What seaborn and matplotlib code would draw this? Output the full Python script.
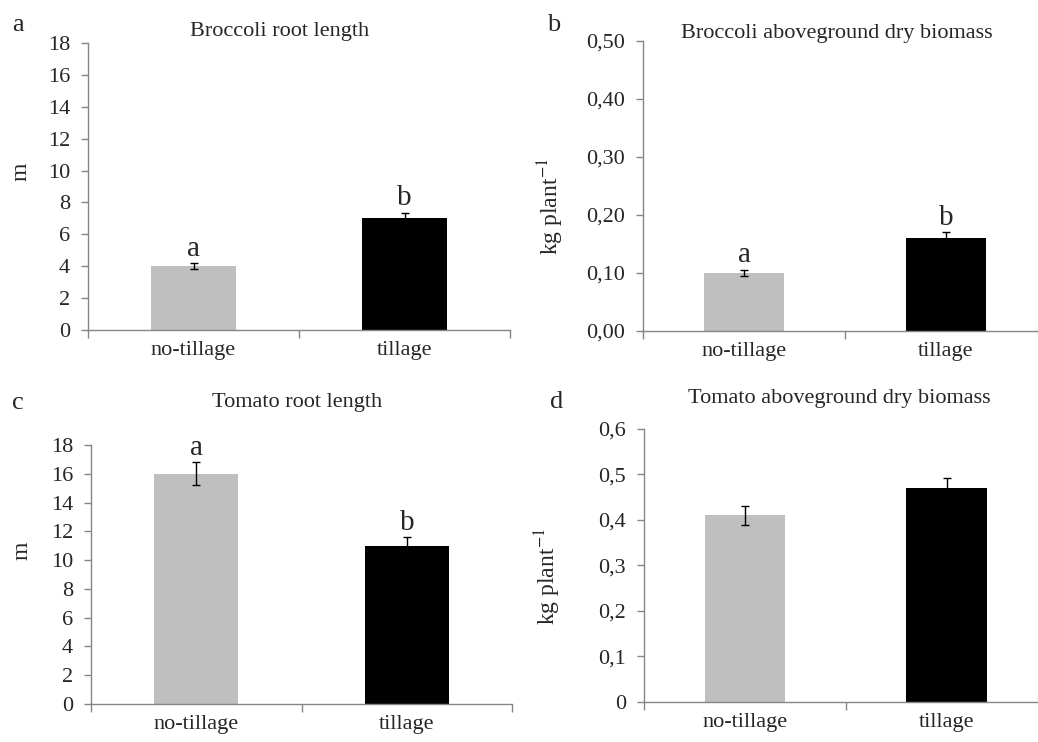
import matplotlib
matplotlib.use("Agg")
import matplotlib.pyplot as plt
import seaborn as sns
import pandas as pd

# --- data ---
treatments = ["no-tillage", "tillage"]
bar_colors = ["#bfbfbf", "#000000"]

broc_root = [4.0, 7.0]
broc_root_err = [0.2, 0.35]
broc_root_letters = ["a", "b"]

broc_bio = [0.10, 0.16]
broc_bio_err = [0.006, 0.01]
broc_bio_letters = ["a", "b"]

tom_root = [16.0, 11.0]
tom_root_err = [0.8, 0.6]
tom_root_letters = ["a", "b"]

tom_bio = [0.41, 0.47]
tom_bio_err = [0.021, 0.022]
tom_bio_letters = ["", ""]

root_ticks = [0, 2, 4, 6, 8, 10, 12, 14, 16, 18]
root_ticklabels = ["0", "2", "4", "6", "8", "10", "12", "14", "16", "18"]
broc_bio_ticks = [0.0, 0.1, 0.2, 0.3, 0.4, 0.5]
broc_bio_ticklabels = ["0,00", "0,10", "0,20", "0,30", "0,40", "0,50"]
tom_bio_ticks = [0.0, 0.1, 0.2, 0.3, 0.4, 0.5, 0.6]
tom_bio_ticklabels = ["0", "0,1", "0,2", "0,3", "0,4", "0,5", "0,6"]

sns.set_style("white")
plt.rcParams["font.family"] = ["Liberation Serif", "DejaVu Serif"]
plt.rcParams["mathtext.fontset"] = "stix"

AXIS_GREY = "#868686"

fig = plt.figure(figsize=(10.38, 7.42), dpi=100)


def panel(rect, values, errs, letters, ticks, ticklabels, ylabel, ylabel_x, ylabel_y,
          title, title_xy, tag, tag_xy):
    ax = fig.add_axes(rect)
    df = pd.DataFrame({"treatment": treatments, "value": values})
    sns.barplot(data=df, x="treatment", y="value", hue="treatment",
                palette=bar_colors, width=0.4, errorbar=None, legend=False,
                saturation=1, linewidth=0, edgecolor="none", ax=ax)
    ax.errorbar(x=range(len(values)), y=values, yerr=errs, fmt="none",
                ecolor="black", elinewidth=1, capsize=3, capthick=1)
    for i, (v, e, lab) in enumerate(zip(values, errs, letters)):
        if lab:
            ax.annotate(lab, (i, v + e), xytext=(0, 1), textcoords="offset points",
                        ha="center", va="bottom", fontsize=21)

    ax.set_xlim(-0.5, 1.5)
    ax.set_ylim(ticks[0], ticks[-1])
    ax.set_yticks(ticks)
    ax.set_yticklabels(ticklabels, fontsize=16)
    ax.set_xticks([0, 1])
    ax.set_xticklabels(treatments, fontsize=16)
    ax.set_xticks([-0.5, 0.5, 1.5], minor=True)
    ax.tick_params(axis="x", which="major", length=0, pad=8)
    ax.tick_params(axis="x", which="minor", length=6, direction="out",
                   color=AXIS_GREY, width=1, bottom=True)
    ax.tick_params(axis="y", length=5, direction="out", color=AXIS_GREY,
                   width=1, pad=8, left=True)
    ax.set_xlabel("")
    ax.set_ylabel(ylabel, fontsize=17)
    ax.yaxis.set_label_coords(ylabel_x, ylabel_y)

    sns.despine(ax=ax)
    for side in ["left", "bottom"]:
        ax.spines[side].set_color(AXIS_GREY)
        ax.spines[side].set_linewidth(1)

    fig.text(title_xy[0], title_xy[1], title, ha="center", va="center", fontsize=16)
    fig.text(tag_xy[0], tag_xy[1], tag, ha="center", va="center", fontsize=19)
    return ax


panel([0.0848, 0.5553, 0.4066, 0.3868], broc_root, broc_root_err, broc_root_letters,
      root_ticks, root_ticklabels, "m", -0.135, 0.55,
      "Broccoli root length", (0.2697, 0.9569), "a", (0.0173, 0.966))

panel([0.6195, 0.5539, 0.3892, 0.3908], broc_bio, broc_bio_err, broc_bio_letters,
      broc_bio_ticks, broc_bio_ticklabels, "kg plant$^{-1}$", -0.19, 0.43,
      "Broccoli aboveground dry biomass", (0.806, 0.9555), "b", (0.533, 0.966))

panel([0.0877, 0.0512, 0.4056, 0.349], tom_root, tom_root_err, tom_root_letters,
      root_ticks, root_ticklabels, "m", -0.14, 0.59,
      "Tomato root length", (0.286, 0.457), "c", (0.0173, 0.457))

panel([0.6204, 0.0539, 0.389, 0.368], tom_bio, tom_bio_err, tom_bio_letters,
      tom_bio_ticks, tom_bio_ticklabels, "kg plant$^{-1}$", -0.20, 0.46,
      "Tomato aboveground dry biomass", (0.809, 0.4636), "d", (0.536, 0.458))

fig.savefig("out.png", dpi=100)
